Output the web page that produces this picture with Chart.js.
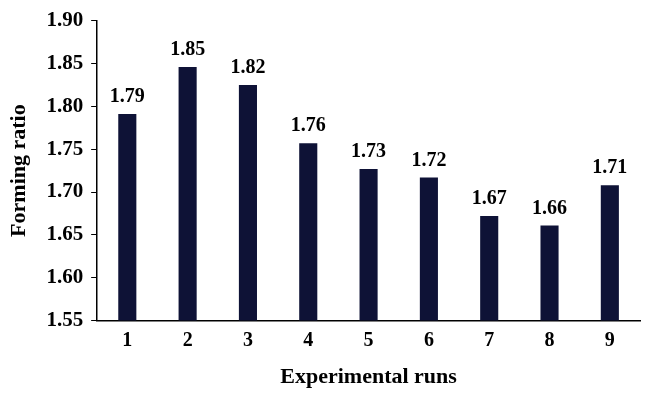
<!DOCTYPE html><html><head><script src="https://cdn.jsdelivr.net/npm/chart.js@4"></script>
<style>body{margin:0;background:#fff}#w{width:650px;height:401px}</style></head><body><div id="w"><canvas id="c"></canvas></div>
<script>
const categories=['1','2','3','4','5','6','7','8','9'];
const values=[1.791,1.846,1.825,1.757,1.727,1.717,1.672,1.661,1.708];
const valueLabels=['1.79','1.85','1.82','1.76','1.73','1.72','1.67','1.66','1.71'];
const F="'Liberation Serif','Times New Roman',serif";
const lbl={id:'lbl',afterDatasetsDraw(ch){const c=ch.ctx;c.save();c.font="bold 20px "+F;c.fillStyle='#000';c.textAlign='center';c.textBaseline='bottom';
ch.getDatasetMeta(0).data.forEach((b,i)=>c.fillText(valueLabels[i],b.x,b.y-7));c.restore();}};
new Chart(document.getElementById('c'),{type:'bar',data:{labels:categories,datasets:[{data:values,backgroundColor:'#0e1236',categoryPercentage:1,barPercentage:0.3}]},
plugins:[lbl],options:{responsive:true,maintainAspectRatio:false,animation:false,
layout:{padding:{top:20,right:10,left:2,bottom:6}},
plugins:{legend:{display:false},tooltip:{enabled:false}},
scales:{x:{grid:{drawOnChartArea:false,drawTicks:false,color:'#000'},border:{color:'#000',width:1.5},ticks:{color:'#000',padding:8,font:{family:F,size:20,weight:'bold'}},
title:{display:true,text:'Experimental runs',color:'#000',font:{family:F,size:22,weight:'bold'},padding:{top:4}}},
y:{min:1.55,max:1.90,grid:{drawOnChartArea:false,tickLength:6,color:'#000'},border:{color:'#000',width:1.5},
ticks:{stepSize:0.05,color:'#000',padding:8,font:{family:F,size:21,weight:'bold'},callback:v=>v.toFixed(2)},
title:{display:true,text:'Forming ratio',color:'#000',font:{family:F,size:22,weight:'bold'},padding:{bottom:6}}}}}});
</script></body></html>
